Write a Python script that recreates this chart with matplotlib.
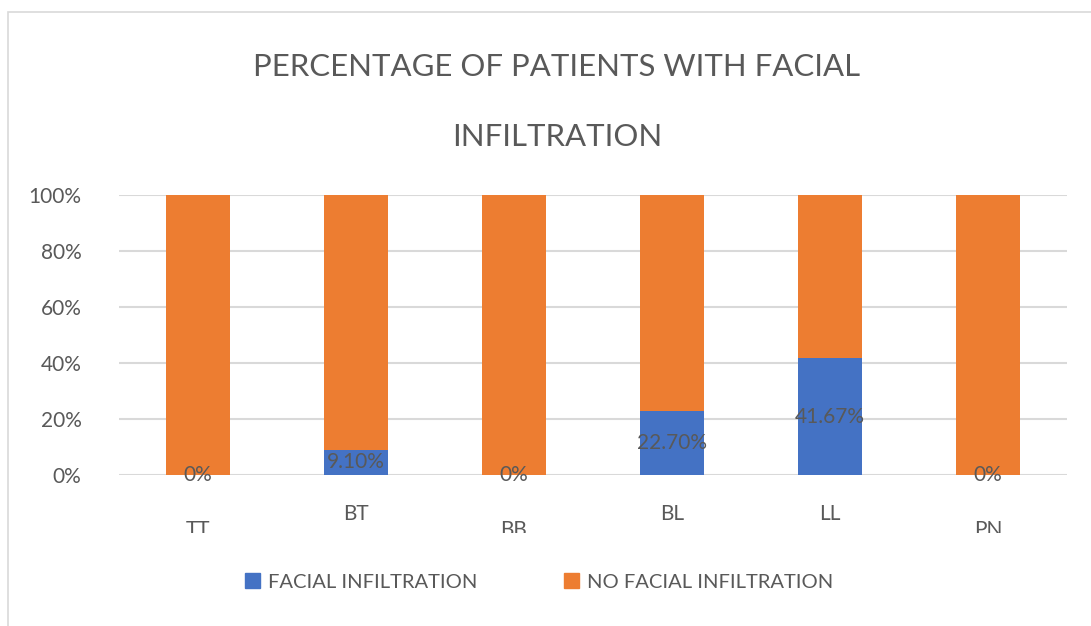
import numpy as np
import matplotlib.pyplot as plt
from matplotlib.patches import Patch, Rectangle
from matplotlib.transforms import Bbox, TransformedBbox

categories = ["TT", "BT", "BB", "BL", "LL", "PN"]
facial = [0, 9.10, 0, 22.70, 41.67, 0]
no_facial = [100 - v for v in facial]
facial_labels = ["0%", "9.10%", "0%", "22.70%", "41.67%", "0%"]
low_label = [True, False, True, False, False, True]   # staggered category labels

blue = "#4472C4"
orange = "#ED7D31"
grey = "#595959"
plt.rcParams['font.family'] = ['Lato', 'DejaVu Sans']

W, H = 1091, 626
fig = plt.figure(figsize=(W / 100, H / 100), dpi=100)
ax = fig.add_axes([119 / W, (H - 475) / H, (1067 - 119) / W, 280 / H])

# chart frame (only top and left edges are visible)
fig.add_artist(Rectangle((8 / W, -0.1), 1.2, (H - 12) / H + 0.1,
                         transform=fig.transFigure, fill=False,
                         edgecolor="#D9D9D9", lw=1.2))

x = np.arange(len(categories))
b1 = ax.bar(x, facial, width=0.4, color=blue, zorder=3)
ax.bar(x, no_facial, width=0.4, bottom=facial, color=orange, zorder=3)
ax.bar_label(b1, labels=facial_labels, label_type="center",
             fontsize=15, color=grey, zorder=4)

ax.set_xlim(-0.5, len(categories) - 0.5)
ax.set_ylim(0, 100)
ax.set_yticks(np.arange(0, 101, 20))
ax.set_yticklabels([f"{v}%" for v in range(0, 101, 20)])
ax.tick_params(axis="y", length=0, labelsize=15, labelcolor=grey, pad=27)
ax.set_xticks([])
ax.grid(axis="y", color="#D9D9D9", lw=1.5, zorder=0)
for s in ax.spines.values():
    s.set_visible(False)

# category labels, staggered; the low row is cut off by the plot area
clip = TransformedBbox(Bbox.from_extents(0, (H - 533) / H, 1, 1), fig.transFigure)
for xi, name, low in zip(x, categories, low_label):
    yy = -55 / 280 if low else -39 / 280
    t = ax.text(xi, yy, name, transform=ax.get_xaxis_transform(),
                ha="center", va="center", fontsize=15, color=grey)
    if low:
        t.set_clip_on(True)
        t.set_clip_box(clip)

fig.text(557 / W, 1 - 67 / H, "PERCENTAGE OF PATIENTS WITH FACIAL",
         ha="center", va="center", fontsize=22.4, color=grey)
fig.text(557 / W, 1 - 137 / H, "INFILTRATION",
         ha="center", va="center", fontsize=22.4, color=grey)

handles = [Patch(color=blue, label="FACIAL INFILTRATION"),
           Patch(color=orange, label="NO FACIAL INFILTRATION")]
fig.legend(handles=handles, loc="center", bbox_to_anchor=(539 / W, 1 - 582 / H),
           ncol=2, frameon=False, fontsize=14.5, labelcolor=grey,
           handlelength=0.75, handleheight=0.75, handletextpad=0.4,
           columnspacing=4.3)

fig.savefig("out.png", dpi=100)
